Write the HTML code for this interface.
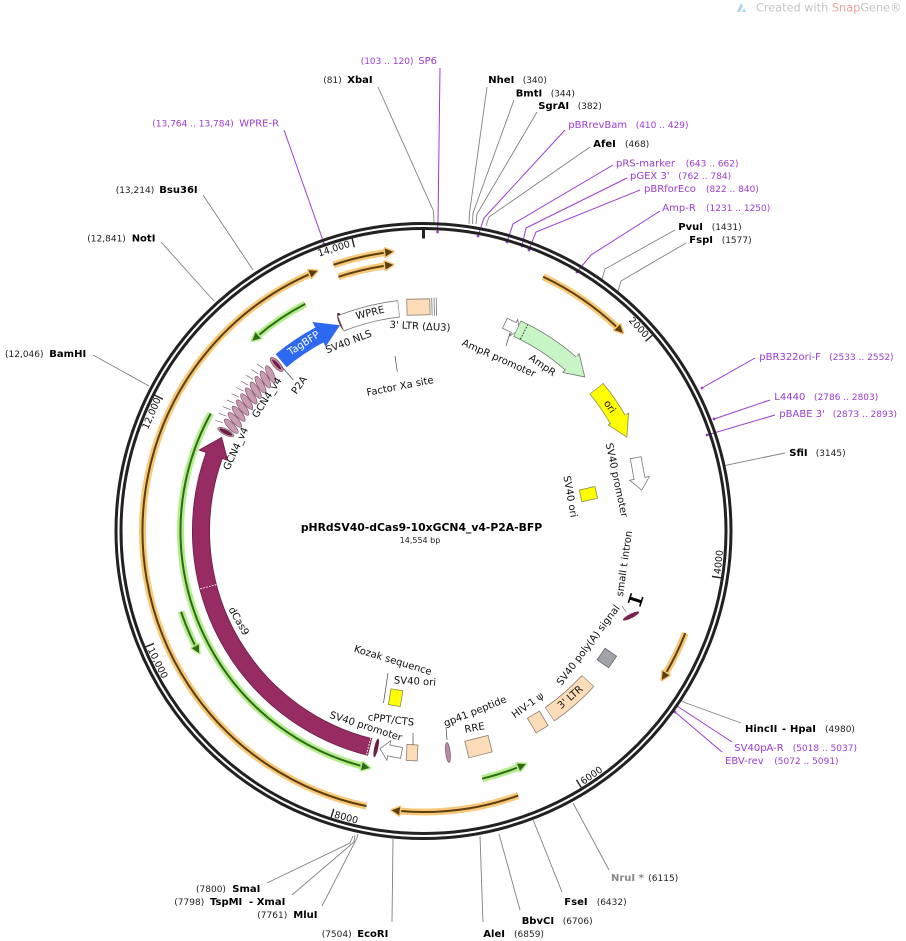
<!DOCTYPE html>
<html><head><meta charset="utf-8"><style>
html,body{margin:0;padding:0;background:#fff;}
svg{display:block;font-family:"DejaVu Sans","Liberation Sans",sans-serif;}
.n{font-size:9px;fill:#222;}
.b{font-size:10px;font-weight:bold;fill:#000;}
.p{font-size:10px;fill:#9a3cd0;}
.pn{font-size:9px;fill:#9a3cd0;}
.t{font-size:9.5px;fill:#111;text-anchor:middle;}
.f{font-size:10px;fill:#111;text-anchor:middle;}
</style></head><body>
<svg width="906" height="941" viewBox="0 0 906 941" xmlns="http://www.w3.org/2000/svg">
<rect width="906" height="941" fill="#fff"/>

<!-- watermark -->
<path d="M737,12 L741,3 L743,6 L740,12 Z M742,12 L744,8 L746,12 Z" fill="#a9d5ea"/>
<text x="756" y="11.5" style="font-size:11.3px" fill="#c4c4c4">Created with <tspan fill="#eba3a3">Snap</tspan>Gene®</text>

<!-- restriction site lines -->
<g fill="none" stroke="#808080" stroke-width="0.9">
<polyline points="378,87 433.5,211 434,222"/>
<polyline points="487,87 469.5,213 469,224"/>
<polyline points="514,100 473,213 472.5,224"/>
<polyline points="537,112 477,214 476,224"/>
<polyline points="590,147 489,217 486,226"/>
<polyline points="675,230 605,269 602,279"/>
<polyline points="686,243 621,281 618,291"/>
<polyline points="785,453 727,465 725,466"/>
<polyline points="741,723 686,703 682,701"/>
<polyline points="609,870 573,803"/>
<polyline points="562,892 534,822 533,820"/>
<polyline points="520,910 499,834"/>
<polyline points="483,922 480,836"/>
<polyline points="392,922 393,839"/>
<polyline points="322,906 357,838 358,834"/>
<polyline points="292,895 354,842 355,835"/>
<polyline points="267,883 350,843 353,836"/>
<polyline points="203,195 253,270"/>
<polyline points="161,242 214,301"/>
<polyline points="93,355 149,386"/>
</g>
<!-- primer lines -->
<g fill="none" stroke="#9a3cd0" stroke-width="1">
<polyline points="440,68 438,222 437.5,232"/>
<polyline points="284,130 320,232 324,244"/>
<polyline points="565,130 484,218 478,236"/>
<polyline points="613,165 513,224 507,242"/>
<polyline points="627,178 526,228 522,246"/>
<polyline points="640,190 536,232 529,250"/>
<polyline points="660,211 591,255 577,272"/>
<polyline points="755,358 702,388"/>
<polyline points="770,400 714,419"/>
<polyline points="775,415 707,435"/>
<polyline points="732,742 677,706"/>
<polyline points="722,752 675,712"/>
</g>
<g fill="#9a3cd0">
<circle cx="437.5" cy="232" r="1.4"/><circle cx="324" cy="244" r="1.4"/><circle cx="478" cy="236" r="1.4"/>
<circle cx="507" cy="242" r="1.4"/><circle cx="522" cy="246" r="1.4"/><circle cx="529" cy="250" r="1.4"/>
<circle cx="577" cy="272" r="1.4"/><circle cx="702" cy="388" r="1.4"/><circle cx="714" cy="419" r="1.4"/>
<circle cx="707" cy="435" r="1.4"/><circle cx="677" cy="706" r="1.4"/><circle cx="675" cy="712" r="1.4"/>
</g>

<g transform="translate(423.5,531)">
<!-- backbone -->
<circle r="307.5" fill="none" stroke="#222" stroke-width="3"/>
<circle r="302.5" fill="none" stroke="#222" stroke-width="3"/>
<line x1="0" y1="-304" x2="0" y2="-292.5" stroke="#222" stroke-width="3"/>
<g stroke="#222" stroke-width="1.4">
<line x1="0" y1="-301" x2="0" y2="-292" transform="rotate(49.47)"/>
<line x1="0" y1="-301" x2="0" y2="-292" transform="rotate(98.94)"/>
<line x1="0" y1="-301" x2="0" y2="-292" transform="rotate(148.41)"/>
<line x1="0" y1="-301" x2="0" y2="-292" transform="rotate(197.88)"/>
<line x1="0" y1="-301" x2="0" y2="-292" transform="rotate(247.35)"/>
<line x1="0" y1="-301" x2="0" y2="-292" transform="rotate(296.82)"/>
<line x1="0" y1="-301" x2="0" y2="-292" transform="rotate(346.29)"/>
</g>

<!-- orange ORFs -->
<g fill="none" stroke="#f7c878" stroke-width="7">
<circle r="281" stroke-dasharray="709.2 3000" transform="rotate(101.7)"/>
<circle r="281" stroke-dasharray="53.9 3000" transform="rotate(251.3)"/>
<circle r="268" stroke-dasharray="49.1 3000" transform="rotate(251.5)"/>
<circle r="281" stroke-dasharray="90.7 3000" transform="rotate(-64.8)"/>
<circle r="281" stroke-dasharray="45.1 3000" transform="rotate(21.3)"/>
<circle r="281" stroke-dasharray="121.1 3000" transform="rotate(70.3)"/>
</g>
<g fill="none" stroke="#5c3f10" stroke-width="2">
<circle r="281" stroke-dasharray="709.2 3000" transform="rotate(101.7)"/>
<circle r="281" stroke-dasharray="53.9 3000" transform="rotate(251.3)"/>
<circle r="268" stroke-dasharray="49.1 3000" transform="rotate(251.5)"/>
<circle r="281" stroke-dasharray="90.7 3000" transform="rotate(-64.8)"/>
<circle r="281" stroke-dasharray="45.1 3000" transform="rotate(21.3)"/>
<circle r="281" stroke-dasharray="121.1 3000" transform="rotate(70.3)"/>
</g>
<g fill="#5c3f10" stroke="#f7c878" stroke-width="3" paint-order="stroke" stroke-linejoin="round">
<polygon points="0,-281 -8,-285 -8,-277" transform="rotate(337.8)"/>
<polygon points="0,-281 -8,-285 -8,-277" transform="rotate(353.8)"/>
<polygon points="0,-268 -8,-272 -8,-264" transform="rotate(353.5)"/>
<polygon points="0,-281 -8,-285 -8,-277" transform="rotate(45.2)"/>
<polygon points="0,-281 -8,-285 -8,-277" transform="rotate(122)"/>
<polygon points="0,-281 -8,-285 -8,-277" transform="rotate(186.5)"/>
</g>

<!-- green ORFs -->
<g fill="none" stroke="#b4ee8c" stroke-width="7">
<circle r="256" stroke-dasharray="58.1 3000" transform="rotate(229.5)"/>
<circle r="243" stroke-dasharray="443.6 3000" transform="rotate(104.3)"/>
<circle r="255.5" stroke-dasharray="38.8 3000" transform="rotate(152.9)"/>
<circle r="254.5" stroke-dasharray="39.5 3000" transform="rotate(67.8)"/>
</g>
<g fill="none" stroke="#2f6a14" stroke-width="2">
<circle r="256" stroke-dasharray="58.1 3000" transform="rotate(229.5)"/>
<circle r="243" stroke-dasharray="443.6 3000" transform="rotate(104.3)"/>
<circle r="255.5" stroke-dasharray="38.8 3000" transform="rotate(152.9)"/>
<circle r="254.5" stroke-dasharray="39.5 3000" transform="rotate(67.8)"/>
</g>
<g fill="#2f6a14" stroke="#b4ee8c" stroke-width="3" paint-order="stroke" stroke-linejoin="round">
<polygon points="0,-256 8,-260 8,-252" transform="rotate(318)"/>
<polygon points="0,-243 8,-247 8,-239" transform="rotate(192.8)"/>
<polygon points="0,-255.5 8,-259.5 8,-251.5" transform="rotate(241.4)"/>
<polygon points="0,-254.5 8,-258.5 8,-250.5" transform="rotate(156.3)"/>
</g>

<!-- dCas9 -->
<polygon points="0,-222.5 -21.1,-237.6 -18.4,-207.4" fill="#962c62" stroke="#6a1d45" stroke-width="0.8" transform="rotate(294.9)"/>
<circle r="222.5" fill="none" stroke="#6a1d45" stroke-width="18" stroke-dasharray="373.2 3000" transform="rotate(103.9)"/>
<circle r="222.5" fill="none" stroke="#962c62" stroke-width="16.4" stroke-dasharray="373.2 3000" transform="rotate(103.9)"/>
<g stroke="#fff" stroke-width="1" stroke-dasharray="1.5 1.5">
<line x1="0" y1="-214" x2="0" y2="-231" transform="rotate(255.5)"/>
<line x1="0" y1="-214" x2="0" y2="-231" transform="rotate(194.3)"/>
</g>

<!-- GCN4 / P2A cluster -->
<g transform="rotate(296.6)"><ellipse cy="-221" rx="3" ry="9" fill="#c69ab0" stroke="#6d4b5c" stroke-width="0.5"/><ellipse cy="-221" rx="2" ry="7" fill="#6b1f45"/></g>
<g fill="#cb9ab3" stroke="#6d4b5c" stroke-width="0.6">
<g transform="rotate(298.6)"><ellipse cy="-219" rx="3.2" ry="9.5" transform="rotate(18 0 -219)"/><line x1="-1" y1="-228" x2="-2.5" y2="-236" fill="none"/></g>
<g transform="rotate(300.5)"><ellipse cy="-219" rx="3.2" ry="9.5" transform="rotate(18 0 -219)"/><line x1="-1" y1="-228" x2="-2.5" y2="-236" fill="none"/></g>
<g transform="rotate(302.4)"><ellipse cy="-219" rx="3.2" ry="9.5" transform="rotate(18 0 -219)"/><line x1="-1" y1="-228" x2="-2.5" y2="-236" fill="none"/></g>
<g transform="rotate(304.3)"><ellipse cy="-219" rx="3.2" ry="9.5" transform="rotate(18 0 -219)"/><line x1="-1" y1="-228" x2="-2.5" y2="-236" fill="none"/></g>
<g transform="rotate(306.2)"><ellipse cy="-219" rx="3.2" ry="9.5" transform="rotate(18 0 -219)"/><line x1="-1" y1="-228" x2="-2.5" y2="-236" fill="none"/></g>
<g transform="rotate(308.1)"><ellipse cy="-219" rx="3.2" ry="9.5" transform="rotate(18 0 -219)"/><line x1="-1" y1="-228" x2="-2.5" y2="-236" fill="none"/></g>
<g transform="rotate(310)"><ellipse cy="-219" rx="3.2" ry="9.5" transform="rotate(18 0 -219)"/><line x1="-1" y1="-228" x2="-2.5" y2="-236" fill="none"/></g>
<g transform="rotate(311.9)"><ellipse cy="-219" rx="3.2" ry="9.5" transform="rotate(18 0 -219)"/><line x1="-1" y1="-228" x2="-2.5" y2="-236" fill="none"/></g>
<g transform="rotate(313.8)"><ellipse cy="-219" rx="3.2" ry="9.5" transform="rotate(18 0 -219)"/><line x1="-1" y1="-228" x2="-2.5" y2="-236" fill="none"/></g>
<g transform="rotate(315.7)"><ellipse cy="-219" rx="3.2" ry="9.5" transform="rotate(18 0 -219)"/><line x1="-1" y1="-228" x2="-2.5" y2="-236" fill="none"/></g>
</g>
<g transform="rotate(318.6)"><ellipse cy="-222" rx="3.5" ry="9" fill="#c48aa6" stroke="#7a4a62" stroke-width="0.6"/><ellipse cy="-222" rx="1.6" ry="6.5" fill="#6b1f45"/></g>

<!-- TagBFP -->
<polygon points="0,-222 -24.3,-235.5 -21.4,-207.5" fill="#2d69f0" transform="rotate(337.9)"/>
<circle r="222" fill="none" stroke="#2d69f0" stroke-width="17" stroke-dasharray="46.4 3000" transform="rotate(230.1)"/>

<!-- SV40 NLS -->
<ellipse cx="0" cy="-224.5" rx="2.6" ry="9.5" fill="#7b2350" stroke="#4a1030" stroke-width="0.5" transform="rotate(338.6)"/>
<!-- WPRE -->
<circle r="223.5" fill="none" stroke="#777" stroke-width="17.2" stroke-dasharray="60.46 3000" transform="rotate(248.2)"/>
<circle r="223.5" fill="none" stroke="#fff" stroke-width="15.6" stroke-dasharray="59.3 3000" transform="rotate(248.35)"/>
<!-- 3' LTR dU3 -->
<g transform="rotate(358.7)">
<rect x="-11.5" y="-232" width="23" height="16" fill="#fddcb8" stroke="#8a7f74" stroke-width="0.8"/>
<g stroke="#777" stroke-width="0.8"><line x1="13.5" y1="-233" x2="13.5" y2="-215"/><line x1="15.8" y1="-233" x2="15.8" y2="-215"/><line x1="18" y1="-233" x2="18" y2="-215"/></g>
</g>

<!-- AmpR promoter -->
<polygon points="0,-222.5 -6,-231.5 -6,-228 -16,-228 -16,-217 -6,-217 -6,-213.5" fill="#fff" stroke="#777" stroke-width="0.8" transform="rotate(25.5)"/>
<!-- AmpR -->
<circle r="223" fill="none" stroke="#777" stroke-width="17.8" stroke-dasharray="64.2 3000" transform="rotate(-65.2)"/>
<circle r="223" fill="none" stroke="#c7f5c6" stroke-width="16.2" stroke-dasharray="63.6 3000" transform="rotate(-65.05)"/>
<g transform="rotate(46.3)">
<polygon points="0,-223 -20.6,-235.1 -20.2,-231.9 -18.7,-214.1 -18.4,-210.2" fill="#c7f5c6"/>
<polyline points="-20.2,-231.9 -20.6,-235.1 0,-223 -18.4,-210.2 -18.7,-214.1" fill="none" stroke="#777" stroke-width="0.8"/>
</g>
<line x1="0" y1="-215" x2="0" y2="-231" stroke="#222" stroke-width="0.9" stroke-dasharray="1.5 1.5" transform="rotate(26.8)"/>

<!-- ori -->
<circle r="224" fill="none" stroke="#8a8a50" stroke-width="17.8" stroke-dasharray="37.5 3000" transform="rotate(-39.5)"/>
<circle r="224" fill="none" stroke="#ffff00" stroke-width="16.2" stroke-dasharray="36.9 3000" transform="rotate(-39.35)"/>
<g transform="rotate(65.2)">
<polygon points="0,-224 -21,-235.6 -20.7,-232.5 -19.2,-215.5 -18.8,-212.2" fill="#ffff00"/>
<polyline points="-20.7,-232.5 -21,-235.6 0,-224 -18.8,-212.2 -19.2,-215.5" fill="none" stroke="#8a8a50" stroke-width="0.8"/>
</g>

<!-- right SV40 promoter / ori -->
<polygon points="0,-222 -12,-232 -12,-227.5 -33,-227.5 -33,-216.5 -12,-216.5 -12,-212" fill="#fff" stroke="#777" stroke-width="0.8" transform="rotate(79.4)"/>
<rect x="-6" y="-177" width="12" height="16" fill="#ffff00" stroke="#8a8a50" stroke-width="0.8" transform="rotate(77.4)"/>

<!-- small t intron -->
<g transform="rotate(108)" stroke="#000">
<line x1="0" y1="-229" x2="0" y2="-217" stroke-width="3"/>
<line x1="-5" y1="-229" x2="5" y2="-229" stroke-width="1.6"/>
<line x1="-5" y1="-217" x2="5" y2="-217" stroke-width="1.6"/>
</g>
<!-- SV40 polyA -->
<rect x="-7" y="-230" width="14" height="14" fill="#a0a4aa" stroke="#666" stroke-width="0.8" transform="rotate(124.7)"/>
<!-- 3' LTR -->
<circle r="222.5" fill="none" stroke="#8a7f74" stroke-width="17" stroke-dasharray="51.26 3000" transform="rotate(42.3)"/>
<circle r="222.5" fill="none" stroke="#fddcb8" stroke-width="15.4" stroke-dasharray="50.1 3000" transform="rotate(42.45)"/>
<!-- HIV-1 psi, RRE, gp41, cPPT -->
<g fill="#fddcb8" stroke="#8a7f74" stroke-width="0.8">
<rect x="-7" y="-231" width="14" height="17" transform="rotate(149.1)"/>
<rect x="-12" y="-231" width="24" height="17" transform="rotate(165.7)"/>
<rect x="-5.5" y="-230" width="11" height="16" transform="rotate(182.95)"/>
</g>
<ellipse cx="0" cy="-222.8" rx="2.3" ry="10" fill="#b98aa6" stroke="#6a4a5a" stroke-width="0.6" transform="rotate(173.7)"/>
<!-- lower SV40 ori -->
<rect x="-6" y="-177" width="12" height="16" fill="#ffff00" stroke="#8a8a50" stroke-width="0.8" transform="rotate(189.5)"/>
<!-- lower SV40 promoter -->
<polygon points="0,-222 -9,-232 -9,-227.5 -22,-227.5 -22,-216.5 -9,-216.5 -9,-212" fill="#fff" stroke="#777" stroke-width="0.8" transform="rotate(191.3)"/>
<ellipse cx="0" cy="-222" rx="2" ry="9.5" fill="#6b1f45" transform="rotate(192.3)"/>
</g>

<!-- dark mark near small t intron -->
<ellipse cx="631" cy="616" rx="9" ry="2.2" fill="#7b2350" transform="rotate(-27 631 616)"/>
<line x1="626" y1="612" x2="622" y2="606" stroke="#555" stroke-width="0.6"/>

<!-- feature leader lines -->
<g stroke="#444" stroke-width="0.7" fill="none">
<line x1="395" y1="356" x2="397.3" y2="371.7"/>
<line x1="510" y1="333" x2="506" y2="346"/>
<line x1="388" y1="673" x2="383.5" y2="703"/>
<line x1="413" y1="733" x2="413" y2="745"/>
<line x1="446" y1="727" x2="447" y2="740"/>
<line x1="281.7" y1="366.7" x2="293.3" y2="380"/>
</g>

<!-- tick labels -->
<text class="t" dy="0.35em" transform="translate(333.8,248.4) rotate(-17.6)">14,000</text>
<text class="t" dy="0.35em" transform="translate(638.9,327.3) rotate(46.6)">2000</text>
<text class="t" dy="0.35em" transform="translate(718.4,562) rotate(-84)">4000</text>
<text class="t" dy="0.35em" transform="translate(591.4,775.3) rotate(-34.5)">6000</text>
<text class="t" dy="0.35em" transform="translate(346.3,817.3) rotate(15.1)">8000</text>
<text class="t" dy="0.35em" transform="translate(157.9,662.8) rotate(63.6)">10,000</text>
<text class="t" dy="0.35em" transform="translate(151.4,413.3) rotate(-66.6)">12,000</text>

<!-- feature labels -->
<text class="f" dy="0.35em" transform="translate(348.5,341.5) rotate(-21)">SV40 NLS</text>
<text class="f" dy="0.35em" transform="translate(370,312.5) rotate(-14)">WPRE</text>
<text class="f" dy="0.35em" transform="translate(420,326) rotate(3)">3' LTR (ΔU3)</text>
<text class="f" dy="0.35em" transform="translate(400,386) rotate(-11)">Factor Xa site</text>
<text class="f" dy="0.35em" transform="translate(499,358) rotate(24)">AmpR promoter</text>
<text class="f" dy="0.35em" transform="translate(542.5,365) rotate(35)">AmpR</text>
<text class="f" dy="0.35em" transform="translate(610,406.5) rotate(56)">ori</text>
<text class="f" dy="0.35em" transform="translate(617,480) rotate(78)">SV40 promoter</text>
<text class="f" dy="0.35em" transform="translate(570.5,496.5) rotate(80)">SV40 ori</text>
<text class="f" dy="0.35em" transform="translate(624,563.5) rotate(-82)">small t intron</text>
<text class="f" dy="0.35em" transform="translate(588,645) rotate(-53)">SV40 poly(A) signal</text>
<text class="f" dy="0.35em" transform="translate(570,697) rotate(-41)">3' LTR</text>
<text class="f" dy="0.35em" transform="translate(527.5,705) rotate(-36)">HIV-1 ψ</text>
<text class="f" dy="0.35em" transform="translate(474.5,727.5) rotate(-10)">RRE</text>
<text class="f" dy="0.35em" transform="translate(475,711) rotate(-22)">gp41 peptide</text>
<text class="f" dy="0.35em" transform="translate(391,719.5) rotate(7)">cPPT/CTS</text>
<text class="f" dy="0.35em" transform="translate(366,726) rotate(18)">SV40 promoter</text>
<text class="f" dy="0.35em" transform="translate(415,681) rotate(3)">SV40 ori</text>
<text class="f" dy="0.35em" transform="translate(393,660) rotate(17)">Kozak sequence</text>
<text class="f" dy="0.35em" transform="translate(239,621) rotate(60)">dCas9</text>
<text class="f" dy="0.35em" transform="translate(303.5,343) rotate(-33)" style="fill:#fff">TagBFP</text>
<text class="f" dy="0.35em" transform="translate(299,385) rotate(-55)">P2A</text>
<text class="f" dy="0.35em" transform="translate(266.7,397.5) rotate(-57)">GCN4_v4</text>
<text class="f" dy="0.35em" transform="translate(235.5,448.5) rotate(-65)">GCN4_v4</text>

<!-- title -->
<text x="421.5" y="531" text-anchor="middle" style="font-size:10.8px;font-weight:bold" fill="#000">pHRdSV40-dCas9-10xGCN4_v4-P2A-BFP</text>
<text x="420" y="543" text-anchor="middle" style="font-size:8px" fill="#222">14,554 bp</text>

<!-- site labels -->
<text class="pn" x="360.7" y="64">(103 .. 120)</text><text class="p" x="418.3" y="64">SP6</text>
<text class="n" x="323.3" y="83">(81)</text><text class="b" x="347.3" y="83">XbaI</text>
<text class="pn" x="152.3" y="126.5">(13,764 .. 13,784)</text><text class="p" x="239.3" y="126.5">WPRE-R</text>
<text class="n" x="115.7" y="193">(13,214)</text><text class="b" x="159.3" y="193">Bsu36I</text>
<text class="n" x="87.3" y="241.5">(12,841)</text><text class="b" x="131.7" y="241.5">NotI</text>
<text class="n" x="5" y="357">(12,046)</text><text class="b" x="49.3" y="357">BamHI</text>

<text class="b" x="488.3" y="83">NheI</text><text class="n" x="522.7" y="83">(340)</text>
<text class="b" x="515.7" y="96.5">BmtI</text><text class="n" x="550.7" y="96.5">(344)</text>
<text class="b" x="538.3" y="109">SgrAI</text><text class="n" x="577.7" y="109">(382)</text>
<text class="p" x="568.3" y="128">pBRrevBam</text><text class="pn" x="635.7" y="128">(410 .. 429)</text>
<text class="b" x="593.3" y="147">AfeI</text><text class="n" x="625" y="147">(468)</text>
<text class="p" x="616" y="166.5">pRS-marker</text><text class="pn" x="685.7" y="166.5">(643 .. 662)</text>
<text class="p" x="630" y="179">pGEX 3'</text><text class="pn" x="678.3" y="179">(762 .. 784)</text>
<text class="p" x="644" y="192">pBRforEco</text><text class="pn" x="706" y="192">(822 .. 840)</text>
<text class="p" x="662.3" y="211">Amp-R</text><text class="pn" x="706" y="211">(1231 .. 1250)</text>
<text class="b" x="678.3" y="230">PvuI</text><text class="n" x="711.7" y="230">(1431)</text>
<text class="b" x="689.3" y="243">FspI</text><text class="n" x="721.7" y="243">(1577)</text>
<text class="p" x="759.3" y="360">pBR322ori-F</text><text class="pn" x="829.3" y="360">(2533 .. 2552)</text>
<text class="p" x="774.3" y="400">L4440</text><text class="pn" x="814" y="400">(2786 .. 2803)</text>
<text class="p" x="779.3" y="417">pBABE 3'</text><text class="pn" x="832.7" y="417">(2873 .. 2893)</text>
<text class="b" x="789.3" y="456">SfiI</text><text class="n" x="815.7" y="456">(3145)</text>
<text class="b" x="745" y="732">HincII</text><text class="b" x="782" y="732">-</text><text class="b" x="790" y="732">HpaI</text><text class="n" x="825" y="732">(4980)</text>
<text class="p" x="734.3" y="751">SV40pA-R</text><text class="pn" x="792.7" y="751">(5018 .. 5037)</text>
<text class="p" x="725" y="764">EBV-rev</text><text class="pn" x="774.3" y="764">(5072 .. 5091)</text>
<text class="b" x="611" y="881" style="fill:#888">NruI *</text><text class="n" x="648.3" y="881">(6115)</text>
<text class="b" x="564.3" y="905">FseI</text><text class="n" x="596.7" y="905">(6432)</text>
<text class="b" x="521.7" y="924">BbvCI</text><text class="n" x="562.7" y="924">(6706)</text>
<text class="b" x="483.3" y="937">AleI</text><text class="n" x="514" y="937">(6859)</text>
<text class="n" x="196" y="892">(7800)</text><text class="b" x="232.3" y="892">SmaI</text>
<text class="n" x="174.3" y="905">(7798)</text><text class="b" x="210" y="905">TspMI</text><text class="b" x="249" y="905">-</text><text class="b" x="256.7" y="905">XmaI</text>
<text class="n" x="257.3" y="918">(7761)</text><text class="b" x="293.3" y="918">MluI</text>
<text class="n" x="321.7" y="937">(7504)</text><text class="b" x="357.3" y="937">EcoRI</text>
</svg>
</body></html>
